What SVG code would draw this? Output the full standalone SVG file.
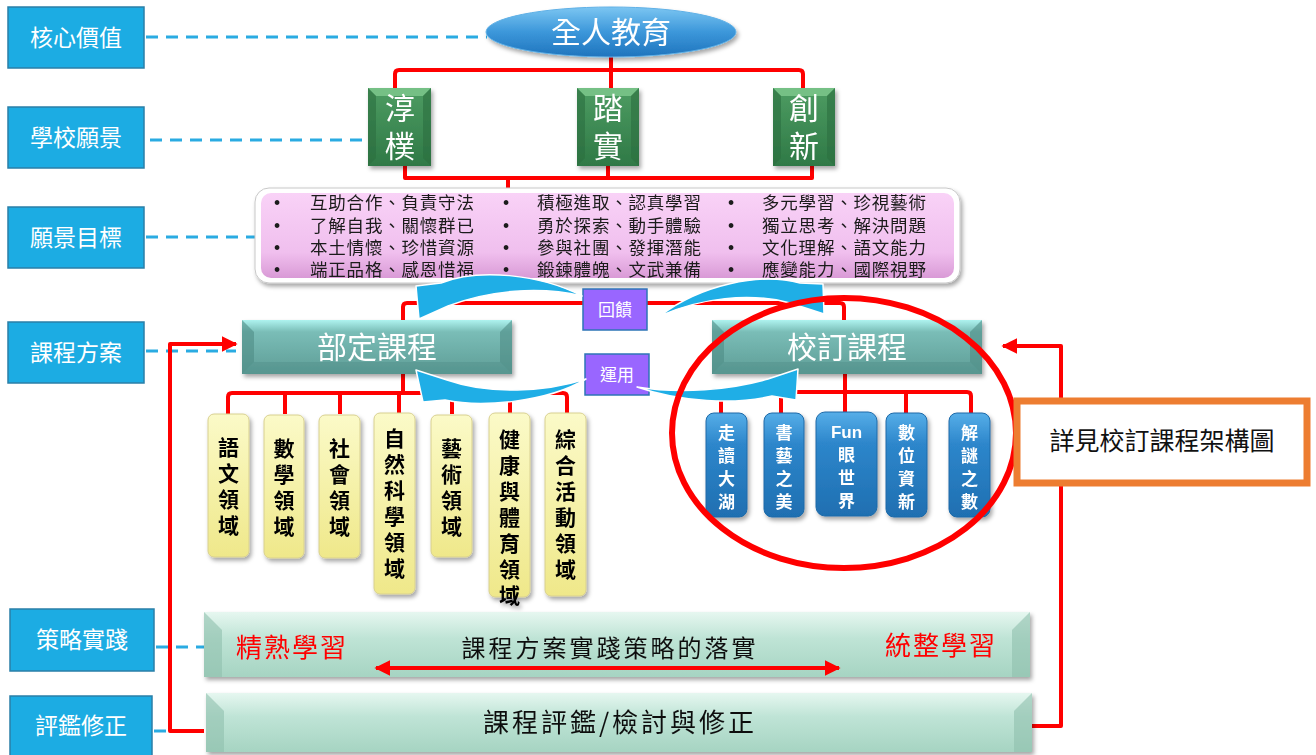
<svg xmlns="http://www.w3.org/2000/svg" width="1316" height="755" viewBox="0 0 1316 755">
<style>
.lbl{fill:#1CACE3;stroke:#2A7FA8;stroke-width:1.5}
.lt{font-family:"Noto Sans CJK TC","Noto Sans",sans-serif;fill:#fff;font-size:23px;text-anchor:middle}
.wt{font-family:"Noto Sans CJK TC","Noto Sans",sans-serif;fill:#fff;text-anchor:middle}
.gt{font-family:"Liberation Sans","Noto Sans CJK TC",sans-serif;fill:#fff;font-size:30px;text-anchor:middle}
.bt{font-family:"Noto Sans CJK TC","Noto Sans",sans-serif;fill:#111;text-anchor:middle}
.pk{font-family:"Liberation Sans","Noto Sans CJK TC",sans-serif;fill:#1a1a1a;font-size:17.5px;letter-spacing:0.8px}
.red{fill:none;stroke:#FF0000;stroke-width:4;stroke-linejoin:round}
.dash{fill:none;stroke:#2AABE2;stroke-width:3;stroke-dasharray:12 8}
.yb{fill:url(#gY);stroke:#D8D090;stroke-width:1}
.yt{font-family:"Liberation Sans","Noto Sans CJK TC",sans-serif;fill:#000;font-size:21px;font-weight:bold;text-anchor:middle}
.bb{fill:url(#gB);stroke:#1E6AA8;stroke-width:1}
.bbt{font-family:"Liberation Sans","Noto Sans CJK TC",sans-serif;fill:#fff;font-size:17px;font-weight:bold;text-anchor:middle}
.arw{fill:#1FAEE6;stroke:#fff;stroke-width:1.5;stroke-linejoin:round}
.pur{fill:#9966FF;stroke:#2E75B6;stroke-width:1.5}
</style>
<defs>
<filter id="sh" x="-10%" y="-10%" width="130%" height="140%"><feDropShadow dx="2" dy="3" stdDeviation="2" flood-color="#000" flood-opacity="0.35"/></filter>
<linearGradient id="gE" x1="0" y1="0" x2="0" y2="1"><stop offset="0" stop-color="#7CC6F2"/><stop offset="0.5" stop-color="#3C97DA"/><stop offset="1" stop-color="#1F74BD"/></linearGradient>
<linearGradient id="gT" x1="0" y1="0" x2="0" y2="1"><stop offset="0" stop-color="#AEF3EF"/><stop offset="0.22" stop-color="#7ABDB7"/><stop offset="1" stop-color="#5E9D96"/></linearGradient>
<linearGradient id="gG" x1="0" y1="0" x2="0" y2="1"><stop offset="0" stop-color="#4D9C62"/><stop offset="1" stop-color="#2F7946"/></linearGradient>
<linearGradient id="gP" x1="0" y1="0" x2="0" y2="1"><stop offset="0" stop-color="#F9D2F7"/><stop offset="0.7" stop-color="#F0BFEE"/><stop offset="1" stop-color="#D99AD6"/></linearGradient>
<linearGradient id="gY" x1="0" y1="0" x2="0" y2="1"><stop offset="0" stop-color="#FBFAC8"/><stop offset="1" stop-color="#EFE88A"/></linearGradient>
<linearGradient id="gB" x1="0" y1="0" x2="0" y2="1"><stop offset="0" stop-color="#56AEE8"/><stop offset="0.3" stop-color="#2D86CB"/><stop offset="1" stop-color="#1F6FB1"/></linearGradient>
<linearGradient id="gBar" x1="0" y1="0" x2="0" y2="1"><stop offset="0" stop-color="#E6F7F0"/><stop offset="0.4" stop-color="#BFE4D6"/><stop offset="1" stop-color="#A6D4C2"/></linearGradient>
<marker id="ah" viewBox="0 0 10 10" refX="9" refY="5" markerWidth="4" markerHeight="4" orient="auto-start-reverse"><path d="M0,0 L10,5 L0,10 Z" fill="#FF0000"/></marker>
</defs>

<g id="connectors">
<path class="dash" d="M146,37 H487"/>
<path class="dash" d="M150,140 H368"/>
<path class="dash" d="M146,237 H256"/>
<path class="dash" d="M146,351 H236"/>
<path class="dash" d="M156,647 H204"/>
<path class="dash" d="M154,731 H204"/>
<path class="red" d="M611,57 V88"/>
<path class="red" d="M395,88 V74 Q395,70 399,70 H799 Q803,70 803,74 V88"/>
<path class="red" d="M405,166 V178 H812 V166"/>
<path class="red" d="M608,166 V178"/>
<path class="red" d="M508,178 V190"/>
<path class="red" d="M403,320 V307 Q403,303 407,303 H840 Q844,303 844,307 V320"/>
<path class="red" d="M403,374 V393"/>
<path class="red" d="M228,414 V397 Q228,393 232,393 H563 Q567,393 567,397 V414"/>
<path class="red" d="M285,393 V414 M340,393 V414 M399,393 V413 M452,393 V414 M510,393 V413"/>
<path class="red" d="M845,374 V392"/>
<path class="red" d="M721,413 V396 Q721,392 725,392 H967 Q971,392 971,396 V413"/>
<path class="red" d="M781,392 V413 M845,392 V412 M906,392 V413"/>
<path class="red" d="M204,731 H170 V344 H236" marker-end="url(#ah)"/>
<path class="red" d="M1032,726 H1061 V346 H1003" marker-end="url(#ah)"/>
</g>

<g id="core-label"><rect class="lbl" x="8" y="7" width="136" height="61"/><text class="lt" x="76" y="46">核心價值</text></g>
<g id="vision-label"><rect class="lbl" x="8" y="107" width="136" height="61"/><text class="lt" x="76" y="146">學校願景</text></g>
<g id="goal-label"><rect class="lbl" x="8" y="207" width="136" height="61"/><text class="lt" x="76" y="246">願景目標</text></g>
<g id="plan-label"><rect class="lbl" x="8" y="322" width="136" height="61"/><text class="lt" x="76" y="361">課程方案</text></g>
<g id="strategy-label"><rect class="lbl" x="10" y="609" width="144" height="62"/><text class="lt" x="82" y="648">策略實踐</text></g>
<g id="eval-label"><rect class="lbl" x="10" y="696" width="142" height="62"/><text class="lt" x="81" y="734">評鑑修正</text></g>

<g id="whole-person" filter="url(#sh)">
<ellipse cx="611" cy="32" rx="125" ry="25" fill="url(#gE)" stroke="#5FB0E6" stroke-width="1"/>
<text class="wt" x="611" y="43" font-size="30">全人教育</text>
</g>

<g id="v1" filter="url(#sh)">
<rect x="368" y="88" width="63" height="78" fill="url(#gG)"/>
<polygon points="368,88 431,88 423,96 376,96" fill="#7FC98F" opacity="0.8"/>
<polygon points="368,88 376,96 376,158 368,166" fill="#2C6E40" opacity="0.6"/>
<polygon points="431,88 423,96 423,158 431,166" fill="#2C6E40" opacity="0.6"/>
<text class="gt" x="400" y="119">淳<tspan x="400" dy="38">樸</tspan></text>
</g>
<g id="v2" filter="url(#sh)">
<rect x="577" y="88" width="62" height="78" fill="url(#gG)"/>
<polygon points="577,88 639,88 631,96 585,96" fill="#7FC98F" opacity="0.8"/>
<polygon points="577,88 585,96 585,158 577,166" fill="#2C6E40" opacity="0.6"/>
<polygon points="639,88 631,96 631,158 639,166" fill="#2C6E40" opacity="0.6"/>
<text class="gt" x="608" y="119">踏<tspan x="608" dy="38">實</tspan></text>
</g>
<g id="v3" filter="url(#sh)">
<rect x="773" y="88" width="62" height="78" fill="url(#gG)"/>
<polygon points="773,88 835,88 827,96 781,96" fill="#7FC98F" opacity="0.8"/>
<polygon points="773,88 781,96 781,158 773,166" fill="#2C6E40" opacity="0.6"/>
<polygon points="835,88 827,96 827,158 835,166" fill="#2C6E40" opacity="0.6"/>
<text class="gt" x="804" y="119">創<tspan x="804" dy="38">新</tspan></text>
</g>

<g id="goals" filter="url(#sh)">
<rect x="255" y="188" width="705" height="95" rx="14" fill="#fff" stroke="#C8C8C8" stroke-width="1"/>
<rect x="261" y="193" width="693" height="85" rx="10" fill="url(#gP)"/>
<g class="pk">
<text x="274" y="209">•<tspan x="274" dy="23">•</tspan><tspan x="274" dy="22">•</tspan><tspan x="274" dy="22">•</tspan></text>
<text x="310" y="209">互助合作、負責守法<tspan x="310" dy="23">了解自我、關懷群已</tspan><tspan x="310" dy="22">本土情懷、珍惜資源</tspan><tspan x="310" dy="22">端正品格、感恩惜福</tspan></text>
<text x="503" y="209">•<tspan x="503" dy="23">•</tspan><tspan x="503" dy="22">•</tspan><tspan x="503" dy="22">•</tspan></text>
<text x="537" y="209">積極進取、認真學習<tspan x="537" dy="23">勇於探索、動手體驗</tspan><tspan x="537" dy="22">參與社團、發揮潛能</tspan><tspan x="537" dy="22">鍛鍊體魄、文武兼備</tspan></text>
<text x="728" y="209">•<tspan x="728" dy="23">•</tspan><tspan x="728" dy="22">•</tspan><tspan x="728" dy="22">•</tspan></text>
<text x="762" y="209">多元學習、珍視藝術<tspan x="762" dy="23">獨立思考、解決問題</tspan><tspan x="762" dy="22">文化理解、語文能力</tspan><tspan x="762" dy="22">應變能力、國際視野</tspan></text>
</g>
</g>

<g id="national" filter="url(#sh)">
<rect x="242" y="320" width="270" height="54" fill="url(#gT)"/>
<polygon points="242,320 254,332 254,362 242,374" fill="#4E8C86" opacity="0.6"/>
<polygon points="512,320 500,332 500,362 512,374" fill="#4E8C86" opacity="0.6"/>
<polygon points="242,374 254,362 500,362 512,374" fill="#4E8C86" opacity="0.4"/>
<text class="wt" x="377" y="358" font-size="30">部定課程</text>
</g>
<g id="school" filter="url(#sh)">
<rect x="712" y="320" width="270" height="54" fill="url(#gT)"/>
<polygon points="712,320 724,332 724,362 712,374" fill="#4E8C86" opacity="0.6"/>
<polygon points="982,320 970,332 970,362 982,374" fill="#4E8C86" opacity="0.6"/>
<polygon points="712,374 724,362 970,362 982,374" fill="#4E8C86" opacity="0.4"/>
<text class="wt" x="847" y="358" font-size="30">校訂課程</text>
</g>

<g id="feedback"><rect class="pur" x="583" y="289" width="64" height="41"/><text class="wt" x="615" y="316" font-size="17">回饋</text></g>
<g id="apply"><rect class="pur" x="585" y="354" width="64" height="41"/><text class="wt" x="617" y="381" font-size="17">運用</text></g>

<g id="d1" filter="url(#sh)"><rect class="yb" x="208" y="414" width="41" height="143" rx="6"/><text class="yt" x="228.5" y="455">語<tspan x="228.5" dy="26">文</tspan><tspan x="228.5" dy="26">領</tspan><tspan x="228.5" dy="26">域</tspan></text></g>
<g id="d2" filter="url(#sh)"><rect class="yb" x="264" y="415" width="40" height="143" rx="6"/><text class="yt" x="284" y="456">數<tspan x="284" dy="26">學</tspan><tspan x="284" dy="26">領</tspan><tspan x="284" dy="26">域</tspan></text></g>
<g id="d3" filter="url(#sh)"><rect class="yb" x="319" y="415" width="41" height="143" rx="6"/><text class="yt" x="339.5" y="456">社<tspan x="339.5" dy="26">會</tspan><tspan x="339.5" dy="26">領</tspan><tspan x="339.5" dy="26">域</tspan></text></g>
<g id="d4" filter="url(#sh)"><rect class="yb" x="374" y="413" width="41" height="181" rx="6"/><text class="yt" x="394.5" y="446">自<tspan x="394.5" dy="26">然</tspan><tspan x="394.5" dy="26">科</tspan><tspan x="394.5" dy="26">學</tspan><tspan x="394.5" dy="26">領</tspan><tspan x="394.5" dy="26">域</tspan></text></g>
<g id="d5" filter="url(#sh)"><rect class="yb" x="431" y="415" width="41" height="142" rx="6"/><text class="yt" x="451.5" y="456">藝<tspan x="451.5" dy="26">術</tspan><tspan x="451.5" dy="26">領</tspan><tspan x="451.5" dy="26">域</tspan></text></g>
<g id="d6" filter="url(#sh)"><rect class="yb" x="489" y="413" width="41" height="184" rx="6"/><text class="yt" x="509.5" y="447">健<tspan x="509.5" dy="26">康</tspan><tspan x="509.5" dy="26">與</tspan><tspan x="509.5" dy="26">體</tspan><tspan x="509.5" dy="26">育</tspan><tspan x="509.5" dy="26">領</tspan><tspan x="509.5" dy="26">域</tspan></text></g>
<g id="d7" filter="url(#sh)"><rect class="yb" x="545" y="413" width="41" height="183" rx="6"/><text class="yt" x="565.5" y="447">綜<tspan x="565.5" dy="26">合</tspan><tspan x="565.5" dy="26">活</tspan><tspan x="565.5" dy="26">動</tspan><tspan x="565.5" dy="26">領</tspan><tspan x="565.5" dy="26">域</tspan></text></g>

<g id="s1" filter="url(#sh)"><rect class="bb" x="706" y="413" width="41" height="104" rx="8"/><text class="bbt" x="726.5" y="439">走<tspan x="726.5" dy="23">讀</tspan><tspan x="726.5" dy="23">大</tspan><tspan x="726.5" dy="23">湖</tspan></text></g>
<g id="s2" filter="url(#sh)"><rect class="bb" x="764" y="413" width="40" height="104" rx="8"/><text class="bbt" x="784" y="439">書<tspan x="784" dy="23">藝</tspan><tspan x="784" dy="23">之</tspan><tspan x="784" dy="23">美</tspan></text></g>
<g id="s3" filter="url(#sh)"><rect class="bb" x="816" y="412" width="61" height="104" rx="9"/><text class="bbt" x="846.5" y="438">Fun<tspan x="846.5" dy="23">眼</tspan><tspan x="846.5" dy="23">世</tspan><tspan x="846.5" dy="23">界</tspan></text></g>
<g id="s4" filter="url(#sh)"><rect class="bb" x="886" y="413" width="41" height="104" rx="8"/><text class="bbt" x="906.5" y="439">數<tspan x="906.5" dy="23">位</tspan><tspan x="906.5" dy="23">資</tspan><tspan x="906.5" dy="23">新</tspan></text></g>
<g id="s5" filter="url(#sh)"><rect class="bb" x="949" y="413" width="41" height="104" rx="8"/><text class="bbt" x="969.5" y="439">解<tspan x="969.5" dy="23">謎</tspan><tspan x="969.5" dy="23">之</tspan><tspan x="969.5" dy="23">數</tspan></text></g>

<g id="arrows">
<path class="arw" d="M416,286 L419,319 L448,306 C490,290 540,286 582,296 C540,274 478,268 441,283 Z"/>
<path class="arw" d="M416,370 L447,380 C490,395 545,392 586,379 C548,402 482,408 445,400 L423,402 Z"/>
<path class="arw" d="M823,284 L824,314 L790,303 C750,292 700,298 660,316 C700,285 760,272 800,283 Z"/>
<path class="arw" d="M798,369 L796,400 L772,396 C735,405 680,402 637,387 C680,394 730,390 768,379 Z"/>
</g>

<g id="highlight"><ellipse cx="844" cy="433" rx="172" ry="135" fill="none" stroke="#FF0000" stroke-width="6"/></g>

<g id="note"><rect x="1017" y="401" width="290" height="82" fill="#fff" stroke="#ED7D31" stroke-width="7"/><text class="bt" x="1162" y="450" font-size="25">詳見校訂課程架構圖</text></g>

<g id="strategy-bar" filter="url(#sh)">
<rect x="204" y="612" width="826" height="65" fill="url(#gBar)"/>
<polygon points="204,612 222,630 222,677 204,677" fill="#8FBFAE" opacity="0.6"/>
<polygon points="1030,612 1012,630 1012,677 1030,677" fill="#8FBFAE" opacity="0.6"/>
<text x="292" y="657" font-family="'Noto Sans CJK TC',serif" font-size="26" fill="#FF0000" text-anchor="middle" letter-spacing="2">精熟學習</text>
<text class="bt" x="610" y="657" font-size="24" letter-spacing="3">課程方案實踐策略的落實</text>
<text x="941" y="655" font-family="'Noto Sans CJK TC',serif" font-size="26" fill="#FF0000" text-anchor="middle" letter-spacing="2">統整學習</text>
</g>
<path class="red" d="M376,668 H839" marker-start="url(#ah)" marker-end="url(#ah)"/>

<g id="eval-bar" filter="url(#sh)">
<rect x="206" y="693" width="826" height="59" fill="url(#gBar)"/>
<polygon points="206,693 224,711 224,752 206,752" fill="#8FBFAE" opacity="0.6"/>
<polygon points="1032,693 1014,711 1014,752 1032,752" fill="#8FBFAE" opacity="0.6"/>
<text class="bt" x="620" y="732" font-size="26" letter-spacing="3">課程評鑑/檢討與修正</text>
</g>
</svg>
